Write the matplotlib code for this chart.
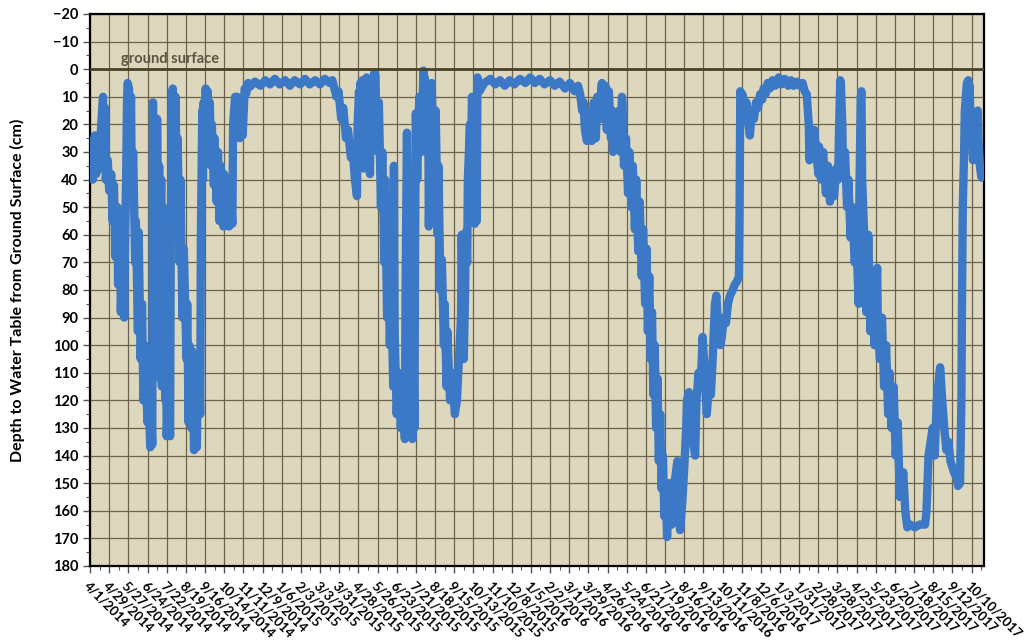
import datetime as dt
import matplotlib
matplotlib.use("Agg")
import matplotlib.pyplot as plt
from matplotlib.ticker import MultipleLocator

plt.rcParams['font.family'] = ['Lato', 'DejaVu Sans']

# days since 4/1/2014 and depth to water table (cm)
start = dt.date(2014, 4, 1)

days_2014 = [0, 1, 3, 4, 7, 9, 11, 13, 16, 19, 20, 22, 23, 26,
             28, 31, 33, 35, 37, 40, 41, 44, 45, 47, 50, 51, 53, 54, 55, 57, 58, 60, 61, 63, 66, 67, 70, 71,
             74, 76, 78, 80,
             84, 85, 88, 90, 91, 92, 94, 95, 97, 98, 100, 101, 102, 104, 105, 107, 110, 111, 112, 115, 117,
             118, 120, 121, 122, 124, 125, 127, 128, 131, 132, 135, 137,
             141, 142, 144, 145, 148, 149, 152, 154, 156, 158, 161, 162, 164, 165, 166, 168, 169, 171, 172,
             174, 175, 177, 178, 181, 182, 185, 187, 189, 191,
             195, 196, 199, 200, 203, 205, 208, 209, 212, 213, 215, 216, 218, 219, 222, 223, 226, 228, 231]
depth_2014 = [30, 38, 27, 40, 24, 38, 28, 36, 22, 10, 30, 14, 40, 33,
              44, 38, 55, 42, 68, 50, 78, 60, 88, 70, 90, 66, 35, 12, 5, 7, 25, 10, 45, 30, 70, 55, 95, 59,
              105, 85, 120, 100,
              128, 115, 137, 130, 136, 12, 60, 20, 100, 18, 85, 35, 112, 40, 115, 50, 120, 80, 133, 110, 133,
              60, 8, 7, 12, 30, 10, 50, 25, 70, 40, 90, 65,
              105, 85, 128, 100, 130, 102, 138, 110, 137, 105, 125, 60, 15, 40, 12, 25, 7, 20, 8,
              30, 12, 35, 20, 42, 25, 48, 30, 55, 35,
              57, 38, 56, 40, 57, 45, 56, 20, 10, 20, 10, 24, 12, 25, 18, 24, 7, 9, 5]

days_2015 = [233, 241, 249, 256, 263, 270, 277, 285, 292, 299, 307, 314, 321, 329, 336, 343, 350, 354,
             360, 363, 367, 370, 374, 377, 381, 384, 387, 390, 391, 393, 394, 395, 397, 398, 400, 401, 403,
             404, 406, 407, 409, 410,
             414, 415, 417, 418, 421, 422, 425, 427, 430, 431, 434, 435, 438, 440, 443, 444, 445, 448, 451,
             454, 457, 460, 461, 463, 464, 465, 467,
             469, 471, 472, 474, 475, 476, 478, 481, 484, 487, 488, 489, 492, 494, 495, 497, 498, 499, 502,
             504, 505, 508, 509, 512, 514, 517, 518, 521, 522,
             526, 529, 533, 536, 539, 542, 543, 545, 546, 548, 549, 551, 552, 555, 556, 558, 561, 562, 564,
             565, 566, 569, 576]
depth_2015 = [6.5, 4.5, 6, 4, 5.5, 3.5, 5.5, 4, 6, 4, 5.5, 3.5, 5.5, 4, 5.5, 3.5, 5, 4,
              10, 8, 18, 14, 25, 22, 32, 30, 40, 46, 20, 8, 30, 5, 25, 4, 36, 10, 30,
              3, 22, 8, 38, 15,
              25, 1.5, 2, 15, 30, 12, 50, 30, 70, 40, 90, 60, 100, 80, 115, 35, 95, 125, 110,
              130, 120, 134, 80, 23, 60, 40, 110,
              80, 134, 95, 130, 60, 16, 40, 10, 30, 0.5, 25, 3, 30, 10, 57, 25, 40, 5, 30,
              45, 15, 60, 35, 80, 69, 100, 85, 115, 95,
              120, 110, 125, 120, 105, 90, 60, 100, 105, 80, 59, 70, 40, 20, 40, 10, 30, 56, 30,
              55, 3, 8, 5]

days_2016 = [585, 592, 599, 606, 613, 620, 628, 636, 643, 650, 657, 664, 672, 679, 686, 694, 701, 708,
             713, 716, 719, 721, 723, 726, 727, 730, 733, 736, 739, 741, 745, 747, 748, 751, 753, 755,
             758, 761, 763, 764, 767, 770, 773, 775, 777, 778, 780, 783,
             786, 788, 791, 793, 796, 798, 801, 803, 806, 808, 811, 813, 815, 817, 819, 821, 823, 825,
             827, 829, 831, 833, 835, 837, 839, 841, 843, 845, 847, 850, 851,
             855, 858, 861, 862, 865, 868, 871, 872, 875, 878, 881, 884, 886, 889, 892, 895, 898, 901,
             904, 907, 910, 913, 915, 918, 921, 923, 926, 929, 932, 935, 939, 942, 945, 948, 949, 950,
             952, 953, 956, 959, 962, 964, 967, 970, 973, 976, 979, 982, 984, 987, 990, 993, 997, 1001,
             1006, 1010, 1015]
depth_2016 = [3.5, 5.5, 4, 6, 4, 5.5, 3.5, 5, 3, 5, 3.5, 5.5, 4, 6, 4.5, 7, 5, 8,
              6, 9, 15, 12, 22, 26, 15, 20, 26, 12, 25, 10, 18, 6, 5, 18, 6, 22,
              8, 25, 15, 30, 20, 28, 15, 30, 10, 12, 35, 25,
              45, 30, 50, 35, 58, 40, 66, 48, 75, 58, 85, 65, 95, 75, 105, 88, 118, 100,
              130, 112, 142, 125, 152, 140, 162, 150, 169.5, 158, 150, 165, 152,
              148, 142, 160, 167, 158, 145, 130, 120, 117, 125, 135, 140, 120, 110, 115, 97, 110, 125,
              115, 118, 103, 85, 82, 95, 100, 97, 90, 92, 85, 82, 80, 78, 77, 75, 50, 8,
              12, 9, 15, 12, 20, 24, 15, 18, 12, 14, 9, 11, 7, 9, 5, 7, 4, 6,
              3, 5.5, 3.5]

days_2017 = [1020, 1024, 1028, 1033, 1037, 1041, 1044, 1047, 1050, 1051, 1054, 1057, 1058, 1061, 1064,
             1065, 1068, 1071,
             1075, 1078, 1081, 1084, 1087, 1090, 1093, 1094, 1096, 1097, 1099, 1100, 1103, 1106, 1108,
             1111, 1114, 1117, 1120, 1123, 1124, 1126, 1127, 1128,
             1131, 1134, 1137, 1140, 1143, 1146, 1148, 1150, 1151, 1154, 1157, 1160, 1163, 1166, 1168,
             1171, 1174, 1177, 1180, 1183,
             1187, 1188, 1191, 1194, 1198, 1205, 1212, 1220, 1222, 1225, 1228, 1231, 1234, 1237,
             1241, 1242, 1245, 1248, 1251, 1254, 1257, 1262, 1266, 1268, 1271, 1273, 1274, 1275, 1277,
             1278, 1280, 1281, 1283, 1284, 1285, 1287, 1288, 1290, 1292,
             1295, 1297, 1298, 1300, 1302, 1303, 1305]
depth_2017 = [6, 4, 6, 4.5, 6, 5, 8, 9, 20, 33, 25, 32, 22, 30, 38,
              28, 40, 30,
              45, 35, 48, 38, 46, 36, 40, 25, 4, 6, 20, 35, 30, 50, 40,
              61, 50, 70, 65, 85, 45, 10, 8, 40,
              60, 88, 60, 95, 75, 100, 80, 72, 95, 105, 90, 115, 100, 125, 110,
              130, 115, 140, 128, 155,
              150, 146, 160, 166, 165, 166, 165, 165, 160, 140, 135, 130, 140, 120,
              110, 108, 120, 130, 138, 135, 142, 146, 148, 151, 150, 120, 80, 50, 30,
              15, 8, 5, 4, 15, 6, 25, 20, 33, 20,
              30, 15, 25, 35, 39, 37, 39]

days = days_2014 + days_2015 + days_2016 + days_2017
depth = depth_2014 + depth_2015 + depth_2016 + depth_2017
dates = [start + dt.timedelta(days=d) for d in days]

# x tick labels every 28 days, 4/1/2014 .. 10/10/2017
tick_dates = [start + dt.timedelta(days=28 * k) for k in range(47)]
tick_labels = [f"{d.month}/{d.day}/{d.year}" for d in tick_dates]
x_end = start + dt.timedelta(days=1306)

fig = plt.figure(figsize=(10.31, 6.42), dpi=100)
ax = fig.add_axes([0.0873, 0.1184, 0.8671, 0.8598])
ax.set_facecolor('#ddd7bd')

ax.plot(dates, depth, color='#3b78c6', lw=6, solid_joinstyle='round', zorder=3)

ax.axhline(0, color='#4a4128', lw=2, zorder=4)
ax.text(start + dt.timedelta(days=46), -1.2, 'ground surface', fontsize=10.5,
        fontweight='bold', color='#5c5440', va='bottom', ha='left', zorder=5)

ax.set_ylim(180, -20)
ax.set_xlim(start, x_end)
ax.yaxis.set_major_locator(MultipleLocator(10))
ax.yaxis.set_minor_locator(MultipleLocator(5))
ax.set_xticks(tick_dates)
ax.set_xticks([start + dt.timedelta(days=14 * k) for k in range(94)], minor=True)
ax.set_xticklabels(tick_labels, rotation=-45, ha='left', va='top',
                   rotation_mode='anchor', fontsize=9.5, fontweight='bold')
for lab in ax.get_yticklabels():
    lab.set_fontweight('bold')
    lab.set_fontsize(10.5)

ax.grid(True, which='major', color='#6b6350', lw=0.9, zorder=1)
ax.set_axisbelow(True)
ax.tick_params(axis='both', which='major', direction='out', length=5, width=1, color='#555555')
ax.tick_params(axis='both', which='minor', direction='out', length=3, width=0.8, color='#555555')
ax.tick_params(axis='x', which='major', pad=5)

for sp in ax.spines.values():
    sp.set_color('black')
    sp.set_linewidth(1.6)

ax.set_ylabel('Depth to Water Table from Ground Surface (cm)', fontsize=11.5,
              fontweight='bold', labelpad=20)

fig.savefig('out.png', dpi=100, facecolor='white')
